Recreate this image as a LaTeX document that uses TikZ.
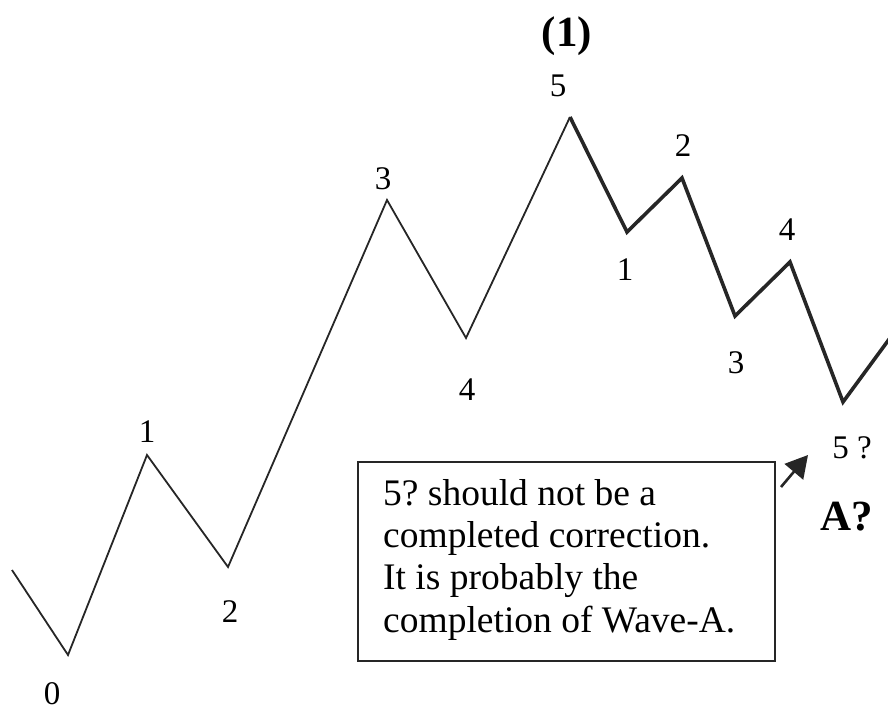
\documentclass[tikz,border=0pt]{standalone}
\usepackage{fontspec}
\setmainfont{Liberation Serif}
\usetikzlibrary{arrows.meta}
\begin{document}
\frenchspacing
\begin{tikzpicture}[x=1pt,y=-1pt,
  lbl/.style={font=\fontsize{33}{38}\selectfont, inner sep=0pt},
  blbl/.style={font=\fontsize{43}{48}\selectfont\bfseries, inner sep=0pt},
  thinw/.style={line width=1.8pt, draw=black!85},
  thickw/.style={line width=3.6pt, draw=black!85, line join=miter},
  boxs/.style={draw=black!85, line width=2.2pt},
  notetext/.style={align=left, anchor=base west, inner sep=0pt,
     font=\fontsize{37.5}{42.3}\selectfont}]
\useasboundingbox (0,0) rectangle (888,711);
\coordinate (s) at (12,570);
\coordinate (p0) at (68,655);
\coordinate (p1) at (147,455);
\coordinate (p2) at (228,567);
\coordinate (p3) at (387,200);
\coordinate (p4) at (466,338);
\coordinate (p5) at (570,117);
\coordinate (q1) at (627,232);
\coordinate (q2) at (682,178);
\coordinate (q3) at (735,316);
\coordinate (q4) at (790,262);
\coordinate (q5) at (843,402);
\coordinate (e) at (890,338);
\draw[thinw, line join=miter] (s) -- (p0) -- (p1) -- (p2) -- (p3) -- (p4) -- (p5);
\draw[thickw] (p5) -- (q1) -- (q2) -- (q3) -- (q4) -- (q5) -- (e);
\node[lbl] (l0) at (52,694) {0};
\node[lbl] (l1) at (147,432) {1};
\node[lbl] (l2) at (230,612) {2};
\node[lbl] (l3) at (383,179) {3};
\node[lbl] (l4) at (467,390) {4};
\node[lbl] (l5) at (558,86) {5};
\node[blbl] (top) at (567,36) {(1)};
\node[lbl] (m1) at (625,270) {1};
\node[lbl] (m2) at (683,146) {2};
\node[lbl] (m3) at (736,363) {3};
\node[lbl] (m4) at (787,230) {4};
\node[lbl] (m5) at (852,448) {5 ?};
\node[blbl] (ma) at (847,517) {A?};
\draw[boxs] (358,462) rectangle (775,661);
\node[notetext] (box) at (383,632) {5? should not be a\\completed correction.\\It is probably the\\completion of Wave-A.};
\coordinate (ar) at (781,487);
\coordinate (at) at (808,455);
\draw[line width=2.6pt, draw=black!85, -{Triangle[length=22pt,width=24pt]}] (ar) -- (at);
\end{tikzpicture}
\end{document}
